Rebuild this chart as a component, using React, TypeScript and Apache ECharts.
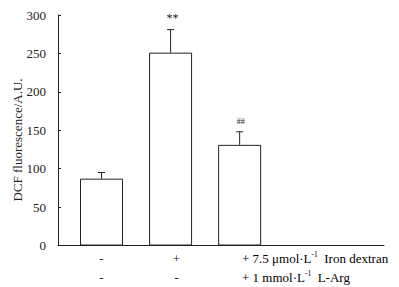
import React, { useEffect, useRef } from "react";
import * as echarts from "echarts";

const categories = ["Control", "Iron dextran", "Iron dextran + L-Arg"];
const meanValues = [87, 251, 131];
const errorTops = [95, 281, 148];
const significance = ["", "**", "##"];
const yTicks = { min: 0, max: 300, interval: 50 };
const row1Labels = ["-", "+"];
const row2Labels = ["-", "-"];

const FONT = "Liberation Serif";

export default function App() {
  const ref = useRef<HTMLDivElement>(null);
  useEffect(() => {
    if (!ref.current) return;
    const chart = echarts.init(ref.current, null, { renderer: "svg" });
    const barData = categories.map((c, i) => [i, meanValues[i]]);
    const errData = categories.map((c, i) => [i, meanValues[i], errorTops[i]]);
    const textColor = "#222";
    const graphics: any[] = [
      {
        type: "text",
        x: 17,
        y: 140,
        rotation: Math.PI / 2,
        style: {
          text: "DCF fluorescence/A.U.",
          font: `13px "${FONT}"`,
          fill: textColor,
          align: "center",
          verticalAlign: "middle",
        },
      },
    ];
    const colX = [101.5, 176.5];
    row1Labels.forEach((t, i) => {
      graphics.push({
        type: "text",
        x: colX[i],
        y: 258,
        style: { text: t, font: `13px "${FONT}"`, fill: textColor, align: "center", verticalAlign: "middle" },
      });
    });
    row2Labels.forEach((t, i) => {
      graphics.push({
        type: "text",
        x: colX[i],
        y: 277,
        style: { text: t, font: `13px "${FONT}"`, fill: textColor, align: "center", verticalAlign: "middle" },
      });
    });
    const rich = {
      n: { fontFamily: FONT, fontSize: 13, color: textColor },
      sup: { fontFamily: FONT, fontSize: 7.5, color: textColor, padding: [0, 0, 7, 0] },
    };
    graphics.push({
      type: "text",
      x: 242,
      y: 258,
      style: {
        text: "{n|+ 7.5 μmol·L}{sup|-1}{n|  Iron dextran}",
        rich,
        align: "left",
        verticalAlign: "middle",
      },
    });
    graphics.push({
      type: "text",
      x: 242,
      y: 277,
      style: {
        text: "{n|+ 1 mmol·L}{sup|-1}{n|  L-Arg}",
        rich,
        align: "left",
        verticalAlign: "middle",
      },
    });

    chart.setOption({
      animation: false,
      backgroundColor: "#fff",
      grid: { left: 58, right: 15, top: 15, bottom: 41.5, containLabel: false },
      xAxis: {
        type: "value",
        min: -0.63,
        max: 4.09,
        axisLine: { show: true, onZero: false, lineStyle: { color: "#222", width: 1 } },
        axisTick: { show: false },
        axisLabel: { show: false },
        splitLine: { show: false },
      },
      yAxis: {
        type: "value",
        min: yTicks.min,
        max: yTicks.max,
        interval: yTicks.interval,
        axisLine: { show: true, onZero: false, lineStyle: { color: "#222", width: 1 } },
        axisTick: { show: true, inside: true, length: 3, lineStyle: { color: "#222" } },
        axisLabel: { fontFamily: FONT, fontSize: 13, color: textColor, margin: 12 },
        splitLine: { show: false },
      },
      graphic: graphics,
      series: [
        {
          type: "bar",
          data: barData,
          barWidth: 43,
          itemStyle: { color: "#fff", borderColor: "#222", borderWidth: 1 },
        },
        {
          type: "custom",
          data: errData,
          z: 3,
          renderItem: (params: any, api: any) => {
            const x = api.value(0);
            const base = api.coord([x, api.value(1)]);
            const top = api.coord([x, api.value(2)]);
            const label = significance[params.dataIndex];
            const children: any[] = [
              { type: "line", shape: { x1: base[0], y1: base[1], x2: top[0], y2: top[1] }, style: { stroke: "#222", lineWidth: 1 } },
              { type: "line", shape: { x1: top[0] - 3.5, y1: top[1], x2: top[0] + 3.5, y2: top[1] }, style: { stroke: "#222", lineWidth: 1 } },
            ];
            if (label) {
              const isHash = label === "##";
              children.push({
                type: "text",
                x: top[0] + (isHash ? 1 : 2),
                y: top[1] - (isHash ? 10 : 12),
                style: {
                  text: label,
                  font: `${isHash ? 8 : 12}px "${FONT}"`,
                  fill: textColor,
                  align: "center",
                  verticalAlign: "middle",
                },
              });
            }
            return { type: "group", children };
          },
        },
      ],
    });
    return () => chart.dispose();
  }, []);
  return <div ref={ref} style={{ width: 399, height: 287, position: "absolute", left: 0, top: 0 }} />;
}
